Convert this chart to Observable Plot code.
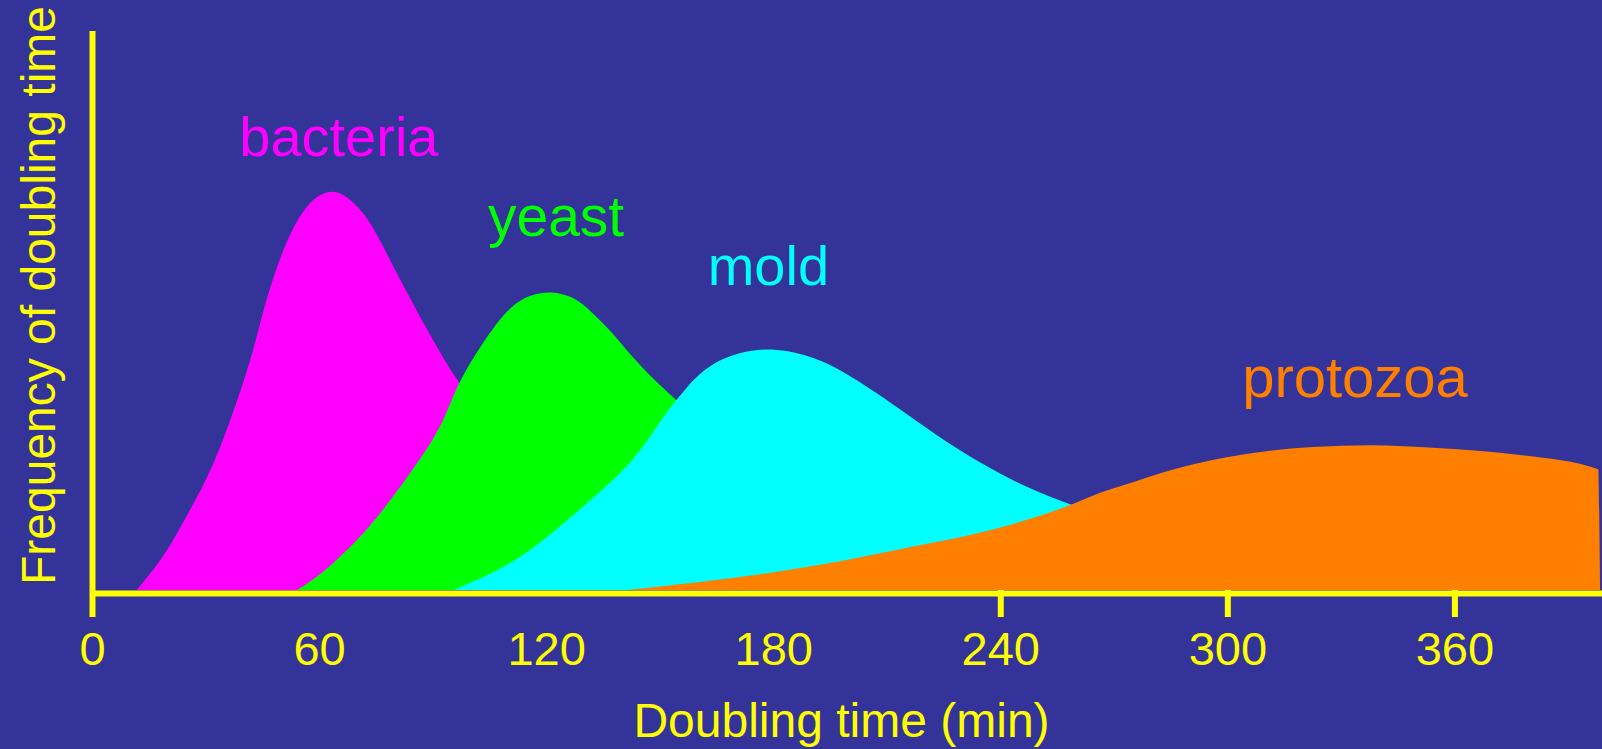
<!DOCTYPE html>
<html>
<head>
<meta charset="utf-8">
<script src="https://cdn.jsdelivr.net/npm/d3@7"></script>
<script src="https://cdn.jsdelivr.net/npm/@observablehq/plot@0.6"></script>
<style>
  html, body { margin: 0; padding: 0; background: #333399; overflow: hidden; }
  svg { display: block; }
</style>
</head>
<body>
<script>
// ---- Data (doubling time in minutes, relative frequency in arbitrary units) ----
const bacteriaTime = [11.8, 18.8, 24.1, 30.3, 34.7, 40.0, 43.1, 45.3, 47.9, 51.5, 55.0, 58.5, 63.4, 68.2, 72.7, 76.1, 81.4, 87.5, 94.6, 97.3, 107.8, 121.0, 134.2, 147.5, 160.7];
const bacteriaFreq = [0, 5.7, 12.1, 19.7, 26.8, 37.0, 44.1, 50.1, 56.0, 62.6, 67.1, 70.1, 71.8, 70.1, 66.7, 62.6, 55.5, 47.8, 39.4, 37.0, 25.0, 14.3, 6.3, 1.8, 0];

const yeastTime = [54.2, 59.5, 65.5, 72.7, 79.5, 85.9, 90.1, 93.8, 96.7, 102.5, 109.7, 115.7, 121.6, 127.6, 132.1, 136.9, 142.7, 148.5, 154.6, 160.7, 171.2, 181.8, 195.0, 208.2, 221.5, 234.7];
const yeastFreq = [0, 2.3, 5.9, 10.7, 16.6, 22.7, 26.8, 31.7, 37.0, 43.5, 50.4, 52.9, 53.5, 52.4, 49.7, 46.5, 41.7, 37.6, 33.8, 30.2, 23.3, 16.1, 8.9, 4.5, 1.8, 0];

const moldTime = [95.6, 109.7, 120.2, 130.9, 141.6, 147.5, 152.2, 155.1, 159.2, 164.0, 171.0, 180.0, 191.1, 199.3, 211.2, 223.0, 234.7, 246.6, 258.4, 271.7, 284.9, 298.1, 314.0, 327.2];
const moldFreq = [0, 4.1, 9.3, 15.6, 22.0, 27.4, 32.2, 34.5, 37.9, 40.6, 42.6, 43.4, 41.7, 38.8, 33.5, 27.7, 22.7, 18.4, 15.2, 12.5, 8.9, 5.4, 1.8, 0];

const protozoaTime = [141.5, 192.3, 213.5, 240.7, 258.5, 266.4, 272.7, 286.9, 304.6, 322.4, 337.7, 355.4, 376.8, 398.0, 398.5];
const protozoaFreq = [0, 4.5, 7.3, 11.3, 15.2, 17.4, 18.8, 21.8, 24.3, 25.6, 25.9, 25.4, 24.2, 21.6, 0];

// series labels and their anchor points (data units)
const seriesNames = ["bacteria", "yeast", "mold", "protozoa"];
const labelTime = [65.1, 122.5, 178.6, 333.6];
const labelFreq = [77.8, 63.5, 54.6, 34.6];

// axis ticks
const tickLabels = [0, 60, 120, 180, 240, 300, 360];
const tickMarks = [0, 240, 300, 360];
const xTitle = "Doubling time (min)";
const yTitle = "Frequency of doubling time";

// ---- Styling ----
const colors = {bacteria: "#ff00ff", yeast: "#00ff00", mold: "#00ffff", protozoa: "#ff8000"};
const curves = {bacteria: "basis", yeast: "basis", mold: "basis", protozoa: "monotone-x"};
const labelSizes = {bacteria: 56, yeast: 57, mold: 56, protozoa: 58};
const axisColor = "#ffff00";
const font = "'Liberation Sans', Arial, Helvetica, sans-serif";

const rows = (t, f) => t.map((v, i) => ({t: v, f: f[i]}));
const series = {
  bacteria: rows(bacteriaTime, bacteriaFreq),
  yeast: rows(yeastTime, yeastFreq),
  mold: rows(moldTime, moldFreq),
  protozoa: rows(protozoaTime, protozoaFreq)
};
const labels = seriesNames.map((name, i) => ({name, t: labelTime[i], f: labelFreq[i]}));

const chart = Plot.plot({
  width: 1602,
  height: 749,
  marginLeft: 92,
  marginRight: 0,
  marginTop: 31,
  marginBottom: 159,
  style: {background: "#333399", color: axisColor, fontFamily: font},
  x: {domain: [0, 399], axis: null},
  y: {domain: [0, 100], axis: null},
  marks: [
    ...seriesNames.map(name =>
      Plot.areaY(series[name], {x: "t", y: "f", fill: colors[name], curve: curves[name]})
    ),
    ...labels.map(d =>
      Plot.text([d], {
        x: "t", y: "f", text: "name", fill: colors[d.name],
        fontSize: labelSizes[d.name], textAnchor: "middle", lineAnchor: "bottom", fontFamily: font
      })
    ),
    // axis lines
    Plot.ruleY([0], {stroke: axisColor, strokeWidth: 6, dy: 3}),
    Plot.ruleX([0], {y1: 0, y2: 100, stroke: axisColor, strokeWidth: 6}),
    // tick marks (only at some positions)
    Plot.axisX({ticks: tickMarks, tickSize: 27, stroke: axisColor, strokeWidth: 6, tickFormat: () => "", label: null}),
    // tick labels
    Plot.axisX({ticks: tickLabels, tickSize: 0, tickPadding: 41.6, fontSize: 47, fill: axisColor, label: null}),
    // axis titles
    Plot.text([xTitle], {frameAnchor: "bottom", dx: -6, dy: 146, lineAnchor: "bottom", textAnchor: "middle", fontSize: 48, fill: axisColor, fontFamily: font}),
    Plot.text([yTitle], {frameAnchor: "left", dx: -38, dy: -15.5, rotate: -90, lineAnchor: "bottom", textAnchor: "middle", fontSize: 48, fill: axisColor, fontFamily: font})
  ]
});
document.body.appendChild(chart);
</script>
</body>
</html>
